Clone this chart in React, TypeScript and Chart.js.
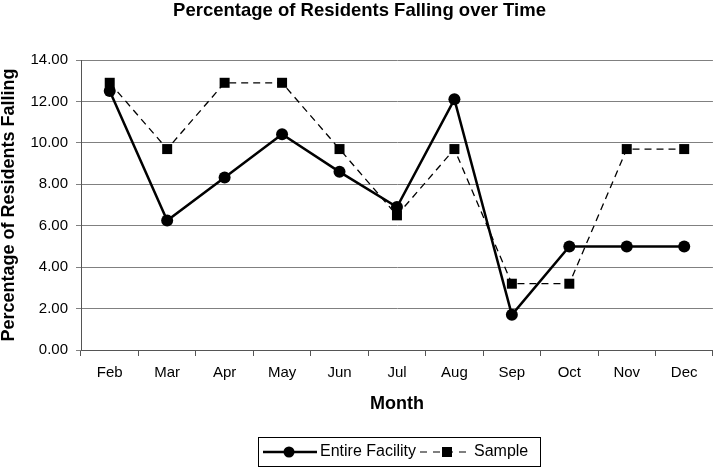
import React, { useEffect, useRef } from 'react';
import { Chart, registerables } from 'chart.js';

Chart.register(...registerables);

const months = ['Feb', 'Mar', 'Apr', 'May', 'Jun', 'Jul', 'Aug', 'Sep', 'Oct', 'Nov', 'Dec'];
const entireFacility = [12.5, 6.25, 8.33, 10.42, 8.6, 6.9, 12.1, 1.7, 5.0, 5.0, 5.0];
const sample = [12.9, 9.7, 12.9, 12.9, 9.7, 6.5, 9.7, 3.2, 3.2, 9.7, 9.7];
const yMin = 0;
const yMax = 14;
const yStep = 2;
const seriesLabels = ['Entire Facility', 'Sample'];
const chartTitle = 'Percentage of Residents Falling over Time';
const yTitle = 'Percentage of Residents Falling';
const xTitle = 'Month';

const FONT = '"Liberation Sans", Arial, sans-serif';

const legendBoxPlugin = {
  id: 'legendBox',
  afterDraw(chart: any) {
    const ctx = chart.ctx as CanvasRenderingContext2D;
    ctx.save();
    const bx = 258.5, by = 437.5, bw = 282, bh = 29;
    ctx.strokeStyle = '#000';
    ctx.lineWidth = 1;
    ctx.strokeRect(bx, by, bw, bh);
    const cy = by + bh / 2;
    // entry 1: solid line with circle
    ctx.setLineDash([]);
    ctx.lineWidth = 2.5;
    ctx.beginPath();
    ctx.moveTo(263, cy);
    ctx.lineTo(317, cy);
    ctx.stroke();
    ctx.fillStyle = '#000';
    ctx.beginPath();
    ctx.arc(289, cy, 5.5, 0, Math.PI * 2);
    ctx.fill();
    ctx.font = `16px ${FONT}`;
    ctx.textBaseline = 'middle';
    ctx.textAlign = 'left';
    ctx.fillText(chart.data.datasets[0].label, 320, cy);
    // entry 2: dashed line with square
    ctx.lineWidth = 1.2;
    ctx.setLineDash([7, 6]);
    ctx.beginPath();
    ctx.moveTo(420, cy);
    ctx.lineTo(471, cy);
    ctx.stroke();
    ctx.setLineDash([]);
    ctx.fillRect(442, cy - 5, 10, 10);
    ctx.fillText(chart.data.datasets[1].label, 474, cy);
    ctx.restore();
  },
};

export default function App() {
  const ref = useRef<HTMLCanvasElement>(null);
  useEffect(() => {
    if (!ref.current) return;
    const chart = new Chart(ref.current, {
      type: 'line',
      data: {
        labels: months,
        datasets: [
          {
            label: seriesLabels[0],
            data: entireFacility,
            borderColor: '#000',
            backgroundColor: '#000',
            borderWidth: 2.5,
            pointStyle: 'circle',
            pointRadius: 6,
            pointBackgroundColor: '#000',
            pointBorderWidth: 0,
            tension: 0,
          },
          {
            label: seriesLabels[1],
            data: sample,
            borderColor: '#000',
            backgroundColor: '#000',
            borderWidth: 1.3,
            borderDash: [7, 5],
            pointStyle: 'rect',
            pointRadius: 7.07,
            pointBackgroundColor: '#000',
            pointBorderWidth: 0,
            tension: 0,
          },
        ],
      },
      options: {
        responsive: false,
        animation: false,
        layout: { padding: { left: 0, right: 1, top: 0, bottom: 47 } },
        plugins: {
          legend: { display: false },
          tooltip: { enabled: false },
          title: {
            display: true,
            text: chartTitle,
            color: '#000',
            font: { family: FONT, size: 18.5, weight: 'bold', lineHeight: 1.2 },
            padding: { top: 0, bottom: 37.8 },
          },
        },
        scales: {
          x: {
            type: 'category',
            offset: true,
            afterFit: (s: any) => { s.height = 70; },
            grid: {
              display: true,
              drawOnChartArea: false,
              drawTicks: true,
              offset: true,
              tickLength: 6,
              color: '#555',
            },
            border: { display: true, color: '#555', width: 1 },
            ticks: {
              color: '#000',
              font: { family: FONT, size: 15 },
              padding: 8,
              maxRotation: 0,
              autoSkip: false,
            },
            title: {
              display: true,
              text: xTitle,
              color: '#000',
              font: { family: FONT, size: 18, weight: 'bold', lineHeight: 1 },
              padding: { top: 0, bottom: 6.5 },
            },
          },
          y: {
            min: yMin,
            max: yMax,
            afterFit: (s: any) => { s.width = 81; },
            grid: {
              color: '#808080',
              lineWidth: 1,
              drawTicks: true,
              tickLength: 5,
            },
            border: { display: true, color: '#555', width: 1 },
            ticks: {
              stepSize: yStep,
              color: '#000',
              font: { family: FONT, size: 15 },
              padding: 8,
              callback: (v: any) => Number(v).toFixed(2),
            },
            title: {
              display: true,
              text: yTitle,
              color: '#000',
              font: { family: FONT, size: 18, weight: 'bold', lineHeight: 1 },
              padding: { top: 0, bottom: 0 },
            },
          },
        },
      },
      plugins: [legendBoxPlugin],
    });
    return () => chart.destroy();
  }, []);
  return (
    <div style={{ position: 'fixed', left: 0, top: 0, width: 720, height: 467, background: '#fff' }}>
      <canvas ref={ref} width={720} height={467} style={{ display: 'block' }} />
    </div>
  );
}
